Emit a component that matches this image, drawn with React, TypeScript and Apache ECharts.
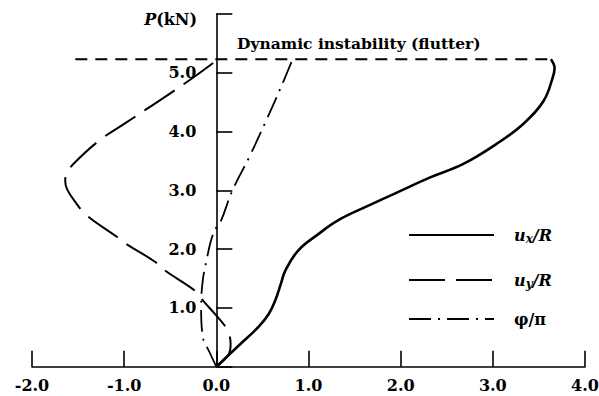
import React, { useEffect, useRef } from 'react';
import * as echarts from 'echarts';

// [u/R or φ/π, P (kN)]
const uxR: number[][] = [
  [0, 0], [0.25, 0.37], [0.46, 0.68], [0.57, 0.9], [0.64, 1.13], [0.7, 1.41], [0.75, 1.64],
  [0.89, 1.98], [1.11, 2.26], [1.32, 2.49], [1.65, 2.74], [1.97, 2.97], [2.32, 3.22],
  [2.68, 3.45], [3.04, 3.79], [3.33, 4.13], [3.55, 4.52], [3.65, 4.92], [3.67, 5.08], [3.63, 5.23],
];
const uyR: number[][] = [
  [0, 0], [0.13, 0.2], [0.155, 0.38], [0.14, 0.55], [0.1, 0.68], [0.0, 0.87], [-0.165, 1.16],
  [-0.22, 1.28], [-0.56, 1.64], [-0.67, 1.79], [-0.99, 2.1], [-1.08, 2.21], [-1.41, 2.58],
  [-1.52, 2.78], [-1.62, 3.02], [-1.64, 3.17], [-1.6, 3.35], [-1.5, 3.53], [-1.26, 3.86],
  [-1.0, 4.13], [-0.75, 4.39], [-0.5, 4.65], [-0.25, 4.92], [0.01, 5.22],
];
const phiPi: number[][] = [
  [0, 0], [-0.075, 0.25], [-0.147, 0.51], [-0.165, 1.02], [-0.147, 1.47], [-0.11, 1.78],
  [-0.057, 2.15], [0, 2.37], [0.05, 2.48], [0.175, 3.0], [0.355, 3.56], [0.53, 4.15],
  [0.7, 4.75], [0.82, 5.2],
];
const flutterLine: number[][] = [[-1.53, 5.23], [3.64, 5.23]];

const xMin = -2, xMax = 4, yMin = 0, yMax = 6;
const flutterText = 'Dynamic instability (flutter)';
const yAxisTitle = 'P';
const yAxisUnit = '(kN)';
const seriesNames = ['ux/R', 'uy/R', 'φ/π'];
const legendLabels: Record<string, string> = {
  'ux/R': '{i|u}{s|x}{i|/R}',
  'uy/R': '{i|u}{s|y}{i|/R}',
  'φ/π': '{b|φ/π}',
};

const FONT = 'DejaVu Serif';
const GRID_LEFT = 32;
const GRID_RIGHT = 14;
const W = 599;
const H = 396;

export default function App() {
  const ref = useRef<HTMLDivElement>(null);
  useEffect(() => {
    if (!ref.current) return;
    const chart = echarts.init(ref.current, undefined, { renderer: 'svg' });
    const black = '#000';
    // distance from the grid's left edge to x = 0, so the y axis sits at x = 0
    const plotW = W - GRID_LEFT - GRID_RIGHT;
    const zeroOffset = ((0 - xMin) / (xMax - xMin)) * plotW;
    chart.setOption({
      animation: false,
      backgroundColor: '#fff',
      grid: { left: GRID_LEFT, right: GRID_RIGHT, top: 14, bottom: 29.3, containLabel: false, outerBoundsMode: 'none' },
      xAxis: {
        type: 'value', min: xMin, max: xMax, interval: 1,
        axisLine: { show: true, lineStyle: { color: black, width: 1.6 } },
        axisTick: { show: true, inside: true, length: 16, lineStyle: { color: black, width: 1.6 } },
        axisLabel: {
          formatter: (v: number) => v.toFixed(1), color: black, fontFamily: FONT,
          fontWeight: 'bold', fontSize: 16, lineHeight: 16, margin: 11,
        },
        splitLine: { show: false },
      },
      yAxis: {
        type: 'value', min: yMin, max: yMax, interval: 1, position: 'left',
        offset: -zeroOffset,
        axisLine: { show: true, onZero: false, lineStyle: { color: black, width: 1.6 } },
        axisTick: { show: true, inside: true, length: 16, lineStyle: { color: black, width: 1.6 } },
        axisLabel: {
          formatter: (v: number) => (v === yMin || v === yMax ? '' : v.toFixed(1)),
          color: black, fontFamily: FONT, fontWeight: 'bold', fontSize: 16, margin: 20,
        },
        splitLine: { show: false },
      },
      legend: {
        data: seriesNames,
        orient: 'vertical', left: 403, top: 216, itemWidth: 85, itemHeight: 14, itemGap: 21,
        selectedMode: false,
        itemStyle: { opacity: 0 },
        formatter: (name: string) => legendLabels[name],
        textStyle: {
          padding: [0, 0, 0, 15],
          rich: {
            i: { fontFamily: FONT, fontStyle: 'italic', fontWeight: 'bold', fontSize: 16, lineHeight: 20, color: black, verticalAlign: 'middle' },
            s: { fontFamily: FONT, fontStyle: 'italic', fontWeight: 'bold', fontSize: 12, lineHeight: 14, padding: [12, 0, 0, 0], color: black, verticalAlign: 'bottom' },
            b: { fontFamily: FONT, fontWeight: 'bold', fontSize: 16, lineHeight: 26, color: black },
          },
        },
      },
      series: [
        {
          name: seriesNames[0], type: 'line', data: uxR, symbol: 'none', smooth: 0.4,
          lineStyle: { color: black, width: 2.6, type: 'solid' }, itemStyle: { color: black },
        },
        {
          name: seriesNames[1], type: 'line', data: uyR, symbol: 'none', smooth: 0.4,
          lineStyle: { color: black, width: 2, type: [36, 11] }, itemStyle: { color: black },
        },
        {
          name: seriesNames[2], type: 'line', data: phiPi, symbol: 'none', smooth: 0.4,
          lineStyle: { color: black, width: 1.8, type: [22, 7, 2, 7] }, itemStyle: { color: black },
        },
        {
          name: 'flutter', type: 'line', data: flutterLine, symbol: 'none',
          lineStyle: { color: black, width: 2, type: [12, 8] }, itemStyle: { color: black },
        },
      ],
      graphic: [
        {
          type: 'text', left: 237, top: 35,
          style: { text: flutterText, font: `bold 15.5px "${FONT}"`, fill: black },
        },
        {
          type: 'text', x: 197, y: 19,
          style: {
            text: `{i|${yAxisTitle}}{r|${yAxisUnit}}`,
            align: 'right', verticalAlign: 'middle',
            rich: {
              i: { fontFamily: FONT, fontStyle: 'italic', fontWeight: 'bold', fontSize: 16, fill: black },
              r: { fontFamily: FONT, fontWeight: 'bold', fontSize: 16, fill: black },
            },
          },
        },
      ],
    });
    return () => chart.dispose();
  }, []);
  return <div ref={ref} style={{ position: 'fixed', left: 0, top: 0, width: W, height: H }} />;
}
